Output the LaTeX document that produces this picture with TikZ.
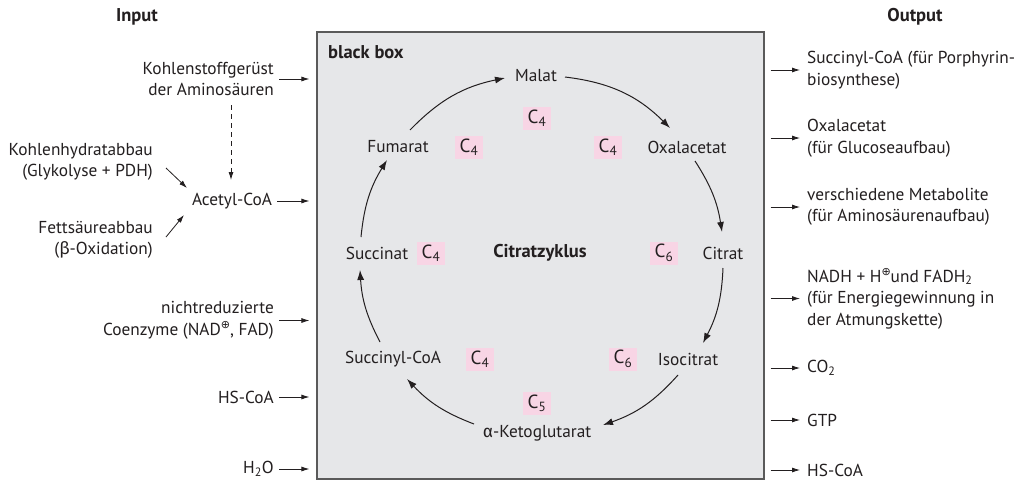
\documentclass[tikz,border=0pt]{standalone}
\usepackage{fontspec}
\setmainfont{PT Sans}
\newfontfamily\symf{DejaVu Sans}
\newfontfamily\grk{Fira Sans}
\usetikzlibrary{arrows.meta,calc}
\definecolor{boxgray}{HTML}{E6E7E9}
\definecolor{boxline}{HTML}{5A5A5A}
\definecolor{pinkc}{HTML}{F8D5E5}
\definecolor{inkc}{HTML}{231F20}
\newcommand{\oplusup}{\raisebox{0.42em}{\symf\fontsize{11}{11}\selectfont ⊕}}
\begin{document}
\begin{tikzpicture}[x=1pt,y=-1pt,
  every node/.style={font=\fontsize{17.3}{21.5}\selectfont, inner sep=0pt, text=inkc},
  lbl/.style={align=right, anchor=east},
  rlbl/.style={align=left, anchor=west},
  hdr/.style={font=\fontsize{18.5}{22}\selectfont\bfseries},
  io/.style={draw=inkc, -{Latex[length=8pt,width=5pt]}, line width=0.8pt},
  cyc/.style={draw=inkc, -{Latex[length=10pt,width=7pt]}, line width=1pt},
  cnum/.style={fill=pinkc, minimum width=28pt, minimum height=23pt, inner sep=0pt, font=\fontsize{19}{21}\selectfont},
  bbox/.style={draw=boxline, fill=boxgray, line width=1.2pt, minimum width=447pt, minimum height=447pt}
]
\fill[white] (0,0) rectangle (1022,482);
\useasboundingbox (0,0) rectangle (1022,482);

% black box
\node[bbox] (box) at (540.5,255.5) {};
\node[hdr, anchor=west] (bb) at (328,52) {black box};

% headers
\node[hdr] (inp) at (137,17) {Input};
\node[hdr] (outp) at (915,17) {Output};

% input side
\node[lbl] (kohlen) at (274,79) {Kohlenstoffgerüst\\der Aminosäuren};
\node (acetyl) at (232,201) {Acetyl-CoA};
\node[lbl] (khy) at (153,162) {Kohlenhydratabbau\\(Glykolyse + PDH)};
\node[lbl] (fett) at (153,240) {Fettsäureabbau\\({\grk β}-Oxidation)};
\node[lbl] (coenz) at (274,320.5) {nichtreduzierte\\Coenzyme (NAD\oplusup, FAD)};
\node[lbl] (hscoa) at (274,397) {HS-CoA};
\node[lbl] (water) at (274,469) {H\textsubscript{2}O};

\draw[io, dash pattern=on 5pt off 4pt] ($(acetyl)+(-1,-96)$) -- ($(acetyl)+(-1,-21)$);
\draw[io] ($(khy.east)+(13,6)$) -- ($(acetyl)+(-45,-13)$);
\draw[io] ($(fett.east)+(13,-3)$) -- ($(acetyl)+(-48,14)$);
\foreach \n in {kohlen,acetyl,coenz,hscoa,water}
  \draw[io] ($(\n.east)+(5,0)$) -- ($(\n.east -| box.west)+(-7,0)$);

% output side
\node[rlbl] (o1) at (807,70) {Succinyl-CoA (für Porphyrin-\\biosynthese)};
\node[rlbl] (o2) at (807,138) {Oxalacetat\\(für Glucoseaufbau)};
\node[rlbl] (o3) at (807,207) {verschiedene Metabolite\\(für Aminosäurenaufbau)};
\node[rlbl] (o4) at (807,298.5) {NADH + H\oplusup und FADH\textsubscript{2}\\(für Energiegewinnung in\\der Atmungskette)};
\node[rlbl] (o5) at (807,368) {CO\textsubscript{2}};
\node[rlbl] (o6) at (807,420) {GTP};
\node[rlbl] (o7) at (807,470) {HS-CoA};
\foreach \n in {o1,o2,o3,o4,o5,o6,o7}
  \draw[io] ($(\n.west -| box.east)+(6,0)$) -- ($(\n.west)+(-7,0)$);

% cycle
\node (malat) at (536,76) {Malat};
\node (fum) at (398,147) {Fumarat};
\node (oxal) at (687,147) {Oxalacetat};
\node (succ) at (377,253) {Succinat};
\node[hdr] (cz) at (540,253) {Citratzyklus};
\node (citrat) at (723,253) {Citrat};
\node (scoa) at (393,359) {Succinyl-CoA};
\node (iso) at (688,359) {Isocitrat};
\node (akg) at (537,433) {{\grk α}-Ketoglutarat};

\node[cnum] (n1) at (537,118) {C\textsubscript{4}};
\node[cnum] (n2) at (469,147) {C\textsubscript{4}};
\node[cnum] (n3) at (608,147) {C\textsubscript{4}};
\node[cnum] (n4) at (431,253) {C\textsubscript{4}};
\node[cnum] (n5) at (664,253) {C\textsubscript{6}};
\node[cnum] (n6) at (480,359) {C\textsubscript{4}};
\node[cnum] (n7) at (623,359) {C\textsubscript{6}};
\node[cnum] (n8) at (537,403) {C\textsubscript{5}};

\draw[cyc] ($(fum)+(12,-17)$) to[bend left=17] ($(malat)+(-31,2)$);
\draw[cyc] ($(malat)+(29,1)$) to[bend left=19] ($(oxal)+(-17,-19)$);
\draw[cyc] ($(oxal)+(8,14)$) to[bend left=12] ($(citrat)+(-1,-21)$);
\draw[cyc] ($(citrat)+(0,15)$) to[bend left=12.5] ($(iso)+(15,-16)$);
\draw[cyc] ($(iso)+(-10,16)$) to[bend left=14.5] ($(akg)+(66,-8)$);
\draw[cyc] ($(akg)+(-63,-9)$) to[bend left=13] ($(scoa)+(14,20)$);
\draw[cyc] ($(scoa)+(-13,-17)$) to[bend left=12] ($(succ)+(-17,17)$);
\draw[cyc] ($(succ)+(-16,-16)$) to[bend left=13] ($(fum)+(-11,13)$);
\end{tikzpicture}
\end{document}
